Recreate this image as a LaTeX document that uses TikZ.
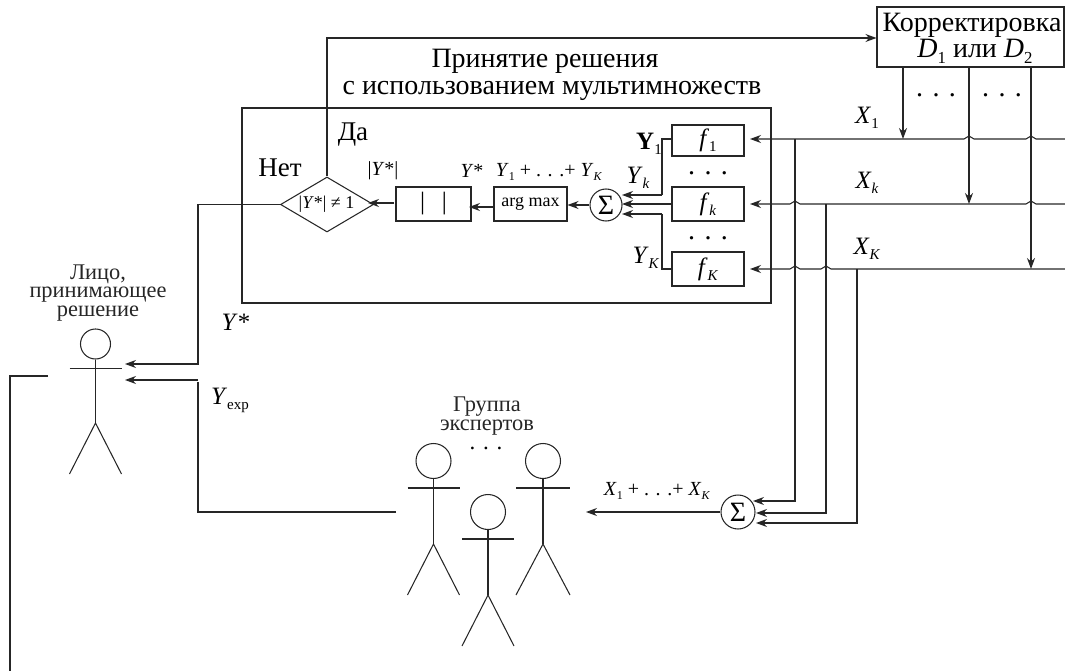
\documentclass[tikz,border=0pt]{standalone}
\usepackage{fontspec}
\setmainfont{Liberation Serif}
\usetikzlibrary{arrows.meta,shapes.geometric}
\newcommand\dn[1]{\raisebox{-0.2em}{\fontsize{0.6em}{0.6em}\selectfont #1}}
\newcommand\vY{\textit{Y}}
\newcommand\vX{\textit{X}}
\newcommand\hop[2]{-- (#1+5,#2) .. controls (#1+3,#2) and (#1+2,#2-3) .. (#1,#2-3) .. controls (#1-2,#2-3) and (#1-3,#2) .. (#1-5,#2)}
\newcommand\actor[6]{% name, x, head y, arm half width, r, hip offset
  \node[headc,minimum size=2*#5*1pt] (#1) at (#2,#3) {};
  \coordinate (#1hip) at (#2,#3+#6);
  \draw[ln] (#1.south) -- (#1hip);
  \draw[ln] (#2-#4,#3+#5+9.5) -- (#2+#4,#3+#5+9.5);
  \draw[ln] (#2-#4,#3+#6+51) -- (#1hip) -- (#2+#4,#3+#6+51);
}
\tikzset{
  ln/.style={line width=1.05pt,draw=black!85},
  arr/.style={ln,-{Stealth[length=11pt,width=8pt]}},
  blk/.style={draw=black!85,line width=1.05pt,inner sep=0pt,fill=white},
  headc/.style={circle,draw=black!85,line width=1.05pt,inner sep=0pt},
  sumc/.style={circle,draw=black!85,line width=1.05pt,inner sep=0pt},
  sumt/.style={inner sep=0pt,font=\fontsize{28}{28}\selectfont},
  big/.style={inner sep=0pt,anchor=base,font=\fontsize{28}{28}\selectfont},
  mid/.style={inner sep=0pt,anchor=base,font=\fontsize{28}{28}\selectfont},
  lab/.style={inner sep=0pt,font=\fontsize{27}{27}\selectfont},
  vlab/.style={inner sep=0pt,font=\fontsize{25}{25}\selectfont},
  sml/.style={inner sep=0pt,font=\fontsize{18}{18}\selectfont},
  flab/.style={inner sep=0pt,font=\fontsize{25}{25}\selectfont},
  smb/.style={inner sep=0pt,font=\fontsize{20}{20}\selectfont},
  dots/.style={inner sep=0pt,font=\fontsize{28}{28}\selectfont},
  dotss/.style={inner sep=0pt,font=\fontsize{23}{23}\selectfont},
  capt/.style={inner sep=0pt,font=\fontsize{22.4}{18.7}\selectfont,align=center,text=black!85},
}
\begin{document}
\begin{tikzpicture}[x=1pt,y=-1pt]
\useasboundingbox (0,0) rectangle (1065,671);
% boxes
\node[blk,minimum width=529pt,minimum height=195pt] (outer) at (506.5,205.5) {};
\node[blk,minimum width=187pt,minimum height=60pt] (corr) at (970.5,37) {};
\node[big] (corrtext1) at (972,32) {Корректировка};
\node[big] (corrtext2) at (975,58) {\textit{D}\dn{1} или \textit{D}\dn{2}};
\node[blk,flab,minimum width=72pt,minimum height=31pt] (f1) at (708,140.5) {\textit{f}\dn{1}};
\node[blk,flab,minimum width=72pt,minimum height=34pt] (fk) at (708,204) {\textit{f}\dn{\textit{k}}};
\node[blk,flab,minimum width=72pt,minimum height=34pt] (fK) at (708,269) {\textit{f}\dn{\textit{K}}};
\node[blk,sml,minimum width=73pt,minimum height=34pt] (argm) at (530.5,204) {arg max};
\node[blk,flab,minimum width=75pt,minimum height=34pt] (abs) at (433.5,204) {|\,\,\,\,|};
\node[diamond,blk,sml,aspect=1.7,minimum width=93pt,minimum height=55pt] (dec) at (327,204.5) {};
\node[sml] (dectext) at (326.5,204.5) {|\vY*| ≠ 1};
\node[sumc,minimum size=32pt] (s1) at (606,205) {};
\node[sumc,minimum size=34pt] (s2) at (738,512) {};
\node[sumt] (s1t) at (s1) {Σ};
\node[sumt] (s2t) at (s2) {Σ};
% free ends
\coordinate (in1) at (1065,139);
\coordinate (ink) at (1065,204);
\coordinate (inK) at (1065,269);
\coordinate (c1) at (903,139);
\coordinate (c2) at (969,204);
\coordinate (c3) at (1031,269);
\coordinate (t1) at (795,139);
\coordinate (tk) at (826,204);
\coordinate (tK) at (857,269);
\coordinate (b1) at (795,501);
\coordinate (bk) at (826,513);
\coordinate (bK) at (857,523);
\coordinate (out) at (586,512);
\coordinate (yc1) at (662,139);
\coordinate (yc2) at (662,269);
\coordinate (dtop) at (327,38);
\coordinate (dm1) at (198,204.5);
\coordinate (dm2) at (198,364);
\coordinate (pt1) at (125,364);
\coordinate (ex1) at (396,512);
\coordinate (ex2) at (198,512);
\coordinate (ex3) at (198,382);
\coordinate (ex4) at (198,380);
\coordinate (pt2) at (125,380);
\coordinate (fb1) at (48,376);
\coordinate (fb2) at (10,376);
\coordinate (fb3) at (10,671);
\coordinate (ab1) at (469,207);
\coordinate (ab2) at (368,203);
\coordinate (ab3) at (394,203);
% X input lines
\draw[arr] (in1) \hop{1031}{139} \hop{969}{139} -- (750,139);
\draw[arr] (ink) \hop{1031}{204} \hop{795}{204} -- (750,204);
\draw[arr] (inK) \hop{826}{269} \hop{795}{269} -- (750,269);
% correction arrows
\draw[arr] (corr.south -| c1) -- (c1);
\draw[arr] (corr.south -| c2) -- (c2);
\draw[arr] (corr.south -| c3) -- (c3);
% tap lines to lower sum
\draw[arr] (t1) -- (b1) -- (753,501);
\draw[arr] (tk) -- (bk) -- (756,513);
\draw[arr] (tK) -- (bK) -- (756,523);
\draw[arr] (s2.west) -- (out);
% collectors
\draw[ln] (f1.west |- yc1) -- (yc1) -- (662,195);
\draw[arr] (662,195) -- (622,195);
\draw[arr] (fk.west) -- (622,204);
\draw[ln] (fK.west |- yc2) -- (yc2) -- (662,214);
\draw[arr] (662,214) -- (622,214);
% chain
\draw[arr] (s1.west) -- (s1.west -| argm.east);
\draw[arr] (argm.west |- ab1) -- (ab1);
\draw[arr] (ab3) -- (ab2);
\draw[arr] (dec.north) -- (dtop) -- (corr.west |- dtop);
\draw[ln] (dec.west) -- (dm1);
\draw[arr] (dm1) -- (dm2) -- (pt1);
\draw[arr] (ex4) -- (pt2);
\draw[ln] (ex1) -- (ex2) -- (ex3);
\draw[ln] (fb1) -- (fb2) -- (fb3);
% actors
\actor{dm}{95.5}{344}{26}{15}{79}
\actor{e1}{433.5}{461}{26}{17.5}{83}
\actor{e2}{488}{512}{26}{17.5}{83}
\actor{e3}{543}{461}{27}{17.5}{83}
% texts
\node[mid] (title1) at (545,68) {Принятие решения};
\node[mid] (title2) at (552,95) {с использованием мультимножеств};
\node[lab] (da) at (353,135) {Да};
\node[lab] (net) at (280,168) {Нет};
\node[smb] (labm) at (383,171) {|\vY*|};
\node[smb] (labs) at (472,171) {\vY*};
\node[smb] (labsum) at (549,172) {\vY\dn{1} + . . .+ \vY\dn{\textit{K}}};
\node[vlab] (lY1) at (649,144) {\textbf{Y}\dn{1}};
\node[vlab] (lYk) at (638,178) {\vY\dn{\textit{k}}};
\node[vlab] (lYK) at (646,258) {\vY\dn{\textit{K}}};
\node[vlab] (lX1) at (867,118) {\vX\dn{1}};
\node[vlab] (lXk) at (867,183) {\vX\dn{\textit{k}}};
\node[vlab] (lXK) at (867,249) {\vX\dn{\textit{K}}};
\node[vlab] (lst) at (236,322) {\vY*};
\node[vlab] (lexp) at (230,400) {\vY\dn{exp}};
\node[smb] (lxsum) at (657,491) {\vX\dn{1} + . . .+ \vX\dn{\textit{K}}};
\node[capt] (cdm) at (98,293) {Лицо,\\принимающее\\решение};
\node[capt] (cex) at (487,416) {Группа\\экспертов};
\node[dots] (d1) at (708,173) {. . .};
\node[dots] (d2) at (708,238) {. . .};
\node[dots] (d3) at (936,95) {. . .};
\node[dots] (d4) at (1002,95) {. . .};
\node[dotss] (d5) at (486,448) {. . .};
\end{tikzpicture}
\end{document}
